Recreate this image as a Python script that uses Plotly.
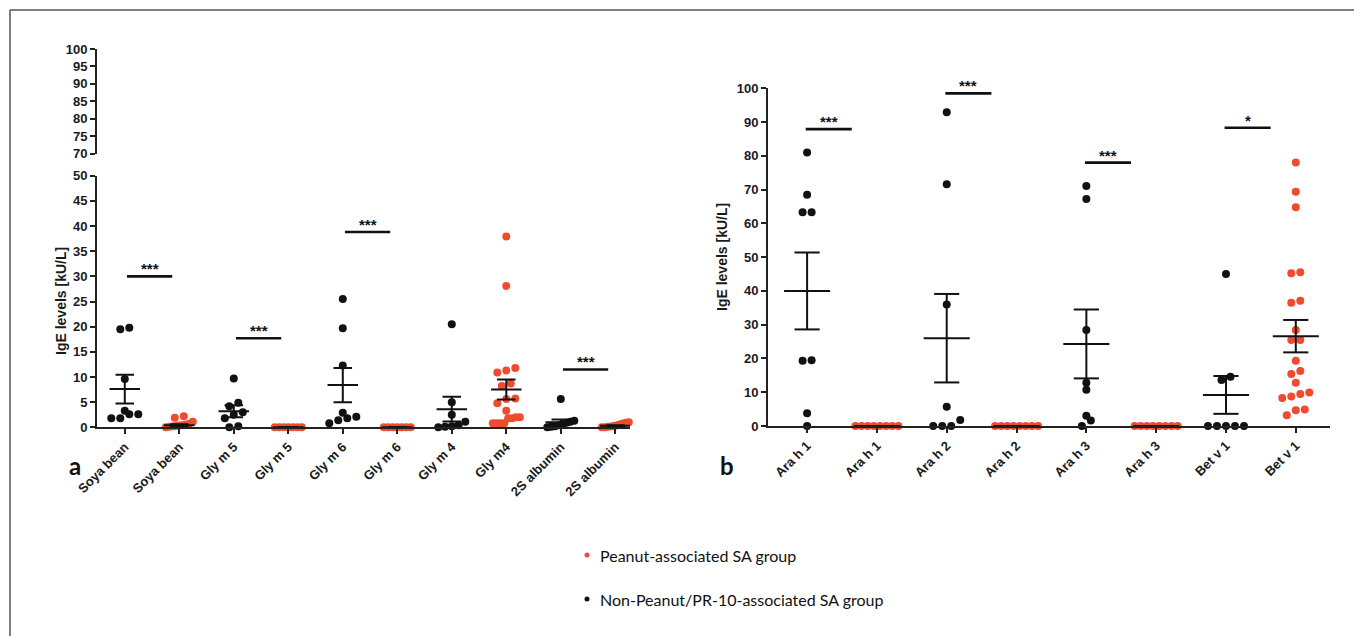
import plotly.graph_objects as go

W, H = 1354, 636

# ---------------- data: panel a ----------------
cats_a = ["Soya bean", "Soya bean", "Gly m 5", "Gly m 5", "Gly m 6", "Gly m 6",
          "Gly m 4", "Gly m4", "2S albumin", "2S albumin"]
groups_a = ["non", "pea", "non", "pea", "non", "pea", "non", "pea", "non", "pea"]
points_a = [
    [19.8, 19.5, 9.6, 3.3, 2.6, 2.6, 1.8, 1.8],
    [2.2, 1.9, 1.1, 0.7, 0.5, 0.4, 0.3, 0.2, 0.1, 0.0],
    [9.7, 4.9, 4.2, 3.0, 2.5, 1.8, 0.2, 0.0],
    [0, 0, 0, 0, 0, 0, 0],
    [25.5, 19.7, 12.3, 2.9, 2.1, 1.8, 1.4, 0.8],
    [0, 0, 0, 0, 0, 0, 0],
    [20.5, 5.0, 2.5, 1.1, 0.4, 0.2, 0.1, 0.0],
    [37.9, 28.1, 11.8, 11.3, 10.9, 8.7, 8.2, 5.7, 5.6, 4.8, 3.3, 2.0, 2.0, 1.8, 1.8,
     0.8, 0.8, 0.8, 0.8],
    [5.6, 1.3, 1.1, 0.9, 0.6, 0.4, 0.2, 0.1, 0.0],
    [1.0, 0.9, 0.7, 0.5, 0.3, 0.2, 0.1, 0.0, 0.0],
]
mean_a = [7.6, 0.4, 3.2, 0.0, 8.4, 0.0, 3.6, 7.5, 1.0, 0.3]
sem_a = [2.85, 0.2, 1.2, 0.0, 3.4, 0.0, 2.45, 2.0, 0.55, 0.1]
sig_a_cat = [0, 2, 4, 8]
sig_a_level = [30.0, 17.7, 38.8, 11.5]
sig_a_text = ["***", "***", "***", "***"]
yticks_a_low = [0, 5, 10, 15, 20, 25, 30, 35, 40, 45, 50]
yticks_a_high = [70, 75, 80, 85, 90, 95, 100]

# ---------------- data: panel b ----------------
cats_b = ["Ara h 1", "Ara h 1", "Ara h 2", "Ara h 2", "Ara h 3", "Ara h 3",
          "Bet v 1", "Bet v 1"]
groups_b = ["non", "pea", "non", "pea", "non", "pea", "non", "pea"]
points_b = [
    [81.0, 68.5, 63.3, 63.3, 19.5, 19.3, 3.8, 0.0],
    [0, 0, 0, 0, 0, 0, 0, 0],
    [92.9, 71.6, 36.0, 5.7, 1.8, 0.0, 0.0, 0.0],
    [0, 0, 0, 0, 0, 0, 0, 0],
    [71.1, 67.2, 28.4, 12.8, 10.7, 3.0, 1.6, 0.0],
    [0, 0, 0, 0, 0, 0, 0, 0],
    [45.0, 14.6, 13.6, 0.0, 0.0, 0.0, 0.0, 0.0],
    [78.0, 69.4, 64.8, 45.5, 45.2, 37.1, 36.5, 28.4, 25.5, 25.5, 19.3, 16.3, 15.4,
     12.8, 9.9, 9.5, 8.7, 8.3, 4.9, 4.7, 3.2],
]
mean_b = [40.0, 0.0, 26.0, 0.0, 24.3, 0.0, 9.2, 26.6]
sem_b = [11.4, 0.0, 13.1, 0.0, 10.2, 0.0, 5.6, 4.8]
sig_b_cat = [0, 2, 4, 6]
sig_b_level = [87.9, 98.5, 78.0, 88.3]
sig_b_text = ["***", "***", "***", "*"]
yticks_b = [0, 10, 20, 30, 40, 50, 60, 70, 80, 90, 100]

legend_labels = ["Peanut-associated SA group", "Non-Peanut/PR-10-associated SA group"]

# ---------------- layout geometry (pixels) ----------------
COL = {"non": "#111111", "pea": "#EF4B2E"}
TICKFONT = dict(family="Liberation Sans", size=13, color="#1a1a1a", weight="bold")
XTICKFONT = dict(family="Liberation Sans", size=13, color="#1a1a1a", weight="bold")


def px(x):
    return x / W


def py(y):
    return 1 - y / H


A_X0, A_X1 = 97, 630
A_XR = [-0.51, 9.27]
A_LOW = (427.3, 175.7)
A_HIGH = (153.7, 49.0)
B_X0, B_X1 = 768, 1330
B_XR = [-0.56, 7.49]
B_Y = (426.0, 88.3)

a_ppx = (A_X1 - A_X0) / (A_XR[1] - A_XR[0])
a_ppy = (A_LOW[0] - A_LOW[1]) / 50.0
b_ppx = (B_X1 - B_X0) / (B_XR[1] - B_XR[0])
b_ppy = (B_Y[0] - B_Y[1]) / 100.0


def swarm(vals, ppy, ppx, d_row, s, wmax):
    vs = sorted(vals)
    rows = []
    for v in vs:
        if rows and (v - rows[-1][0]) * ppy < d_row:
            rows[-1].append(v)
        else:
            rows.append([v])
    out = []
    for r in rows:
        n = len(r)
        sp = s if n == 1 else min(s, wmax / (n - 1))
        for k, v in enumerate(r):
            out.append(((k - (n - 1) / 2) * sp / ppx, v))
    return out


fig = go.Figure()


def add_panel(cats, groups, points, means, sems, xa, ya, ppx, ppy, s, wmax, mw, cw):
    for i, (g, pts) in enumerate(zip(groups, points)):
        sw = swarm(pts, ppy, ppx, 7, s, wmax)
        fig.add_trace(go.Scatter(
            x=[i + o for o, _ in sw], y=[v for _, v in sw], mode="markers",
            marker=dict(size=8, color=COL[g]), xaxis=xa, yaxis=ya,
            showlegend=False, cliponaxis=False, hoverinfo="y"))
    xs, ys = [], []
    for i, (m, e) in enumerate(zip(means, sems)):
        xs += [i - mw, i + mw, None, i - cw, i + cw, None, i - cw, i + cw, None, i, i, None]
        ys += [m, m, None, m + e, m + e, None, m - e, m - e, None, m - e, m + e, None]
    fig.add_trace(go.Scatter(x=xs, y=ys, mode="lines", line=dict(color="#111", width=2),
                             xaxis=xa, yaxis=ya, showlegend=False, cliponaxis=False,
                             hoverinfo="skip"))


add_panel(cats_a, groups_a, points_a, mean_a, sem_a, "x", "y", a_ppx, a_ppy, 9, 27, 0.28, 0.17)
add_panel(cats_b, groups_b, points_b, mean_b, sem_b, "x2", "y3", b_ppx, b_ppy, 9, 43, 0.33, 0.18)

# dummy trace for upper broken axis of panel a
fig.add_trace(go.Scatter(x=[None], y=[None], xaxis="x", yaxis="y2", showlegend=False))


# significance bars
def sig(cats_i, levels, texts, xa, ya, x0o, x1o):
    xs, ys = [], []
    for c, lv in zip(cats_i, levels):
        xs += [c + x0o, c + x1o, None]
        ys += [lv, lv, None]
    fig.add_trace(go.Scatter(x=xs, y=ys, mode="lines", line=dict(color="#111", width=2.6),
                             xaxis=xa, yaxis=ya, showlegend=False, cliponaxis=False,
                             hoverinfo="skip"))
    for c, lv, t in zip(cats_i, levels, texts):
        fig.add_annotation(x=c + (x0o + x1o) / 2, y=lv, xref=xa, yref=ya, text=t,
                           showarrow=False, xanchor="center", yanchor="bottom", yshift=-3,
                           font=dict(family="Liberation Sans", size=15, color="#111",
                                     weight="bold"))


sig(sig_a_cat, sig_a_level, sig_a_text, "x", "y", 0.04, 0.87)
sig(sig_b_cat, sig_b_level, sig_b_text, "x2", "y3", -0.02, 0.64)

axis_common = dict(showgrid=False, zeroline=False, showline=True, linecolor="#222",
                   linewidth=2, ticks="outside", tickcolor="#222", tickwidth=2, ticklen=5,
                   automargin=False)

fig.update_layout(
    width=W, height=H, margin=dict(l=0, r=0, t=0, b=0, autoexpand=False),
    paper_bgcolor="white", plot_bgcolor="white", showlegend=False,
    xaxis=dict(domain=[px(A_X0), px(A_X1)], range=A_XR, anchor="y",
               tickmode="array", tickvals=list(range(len(cats_a))), ticktext=cats_a,
               tickangle=-45, tickfont=XTICKFONT, **axis_common),
    yaxis=dict(domain=[py(A_LOW[0]), py(A_LOW[1])], range=[0, 50], anchor="x",
               tickmode="array", tickvals=yticks_a_low, tickfont=TICKFONT, **axis_common),
    yaxis2=dict(domain=[py(A_HIGH[0]), py(A_HIGH[1])], range=[70, 100], anchor="x",
                tickmode="array", tickvals=yticks_a_high, tickfont=TICKFONT, **axis_common),
    xaxis2=dict(domain=[px(B_X0), px(B_X1)], range=B_XR, anchor="y3",
                tickmode="array", tickvals=list(range(len(cats_b))), ticktext=cats_b,
                tickangle=-45, tickfont=XTICKFONT, **axis_common),
    yaxis3=dict(domain=[py(B_Y[0]), py(B_Y[1])], range=[0, 100], anchor="x2",
                tickmode="array", tickvals=yticks_b, tickfont=TICKFONT, **axis_common),
)

# axis titles
for xx, yy in [(61, 301), (722, 257)]:
    fig.add_annotation(x=px(xx), y=py(yy), xref="paper", yref="paper",
                       text="IgE levels [kU/L]", textangle=-90, showarrow=False,
                       xanchor="center", yanchor="middle",
                       font=dict(family="Liberation Sans", size=14, color="#1a1a1a",
                                 weight="bold"))

# panel letters
for lab, xx in [("a", 75), ("b", 727)]:
    fig.add_annotation(x=px(xx), y=py(466), xref="paper", yref="paper", text=lab,
                       showarrow=False, xanchor="center", yanchor="middle",
                       font=dict(family="Lato", size=24, color="#111", weight="bold"))

# legend (manual)
for lab, yy, g in [(legend_labels[0], 555, "pea"), (legend_labels[1], 599, "non")]:
    fig.add_shape(type="circle", xref="paper", yref="paper",
                  x0=px(584.5), x1=px(589.5), y0=py(yy + 2.5), y1=py(yy - 2.5),
                  fillcolor=COL[g], line=dict(width=0))
    fig.add_annotation(x=px(598), y=py(yy), xref="paper", yref="paper", text=lab,
                       showarrow=False, xanchor="left", yanchor="middle",
                       font=dict(family="Lato", size=16, color="#111"))

# frame
fig.add_shape(type="line", xref="paper", yref="paper", x0=px(10), x1=1.0,
              y0=py(10), y1=py(10), line=dict(color="#555", width=1.5))
fig.add_shape(type="line", xref="paper", yref="paper", x0=px(10), x1=px(10),
              y0=py(10), y1=0, line=dict(color="#555", width=1.5))

fig.write_html("out.html", config={"displayModeBar": False},
               post_script="document.body.style.margin='0px';")
